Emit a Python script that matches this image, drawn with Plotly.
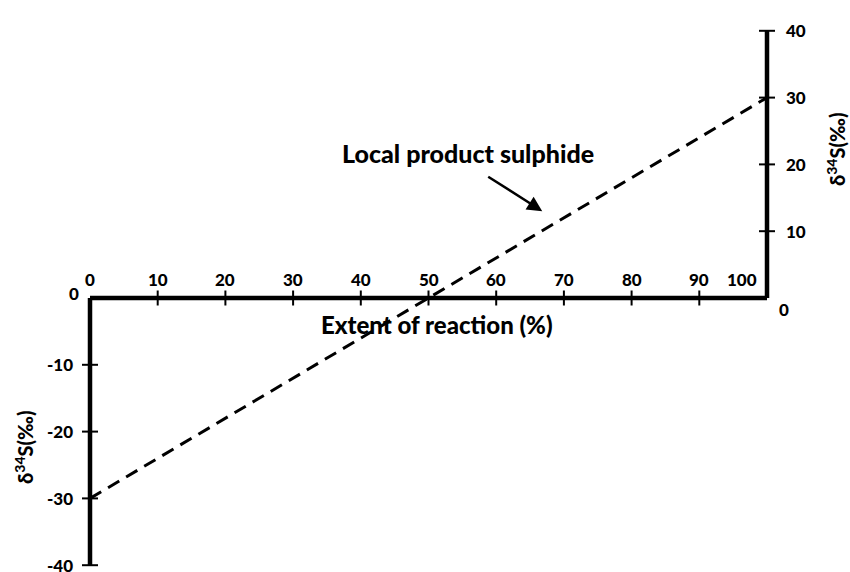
import plotly.graph_objects as go

# Extent of reaction (%) and the local product sulphide δ34S (‰)
extent = [0, 100]
delta_product = [-30, 30]

x_ticks = [0, 10, 20, 30, 40, 50, 60, 70, 80, 90, 100]
left_ticks = [-10, -20, -30, -40]
right_ticks = [10, 20, 30, 40]

x_title = "Extent of reaction (%)"
y_title = "δ<sup>34</sup>S(‰)"
curve_label = "Local product sulphide"

INK = "black"


def bold(size):
    return dict(family="Lato", size=size, color=INK, weight=900)


# pixel scales used to size ticks in data units
PX_X = 677 / 100.0
PX_Y = 6.68
ZERO_PX = 298
X_RANGE = [-90 / PX_X, 760 / PX_X]
Y_RANGE = [-(572 - ZERO_PX) / PX_Y, ZERO_PX / PX_Y]

fig = go.Figure()

fig.add_trace(go.Scatter(
    x=extent, y=delta_product, mode="lines",
    line=dict(color=INK, width=3, dash="13px,8px"),
    hoverinfo="skip", showlegend=False,
))

shapes = []
AX_W = 4.5
# horizontal axis at zero, left axis going down, right axis going up
shapes.append(dict(type="line", x0=x_ticks[0], x1=x_ticks[-1], y0=0, y1=0,
                   line=dict(color=INK, width=AX_W)))
shapes.append(dict(type="line", x0=x_ticks[0], x1=x_ticks[0], y0=0, y1=min(left_ticks),
                   line=dict(color=INK, width=AX_W)))
shapes.append(dict(type="line", x0=x_ticks[-1], x1=x_ticks[-1], y0=0, y1=max(right_ticks),
                   line=dict(color=INK, width=AX_W)))

half_y = 7.5 / PX_Y
half_x = 8.0 / PX_X
for t in x_ticks[1:-1]:
    shapes.append(dict(type="line", x0=t, x1=t, y0=-half_y, y1=half_y,
                       line=dict(color=INK, width=2)))
for t in left_ticks:
    shapes.append(dict(type="line", x0=-half_x, x1=half_x, y0=t, y1=t,
                       line=dict(color=INK, width=2)))
for t in right_ticks:
    shapes.append(dict(type="line", x0=x_ticks[-1] - half_x, x1=x_ticks[-1] + half_x,
                       y0=t, y1=t, line=dict(color=INK, width=2)))

ann = []
TF = bold(17)
for t in x_ticks:
    last = t == x_ticks[-1]
    ann.append(dict(x=t, y=0, text=str(t), showarrow=False,
                    xanchor="right" if last else "center",
                    xshift=-8 if last else 0,
                    yanchor="bottom", yshift=6, font=TF))
for t in left_ticks:
    ann.append(dict(x=0, y=t, text=str(t), showarrow=False, xanchor="right",
                    yanchor="middle", xshift=-15, font=TF))
for t in right_ticks:
    ann.append(dict(x=100, y=t, text=str(t), showarrow=False, xanchor="left",
                    yanchor="middle", xshift=17, font=TF))
# zero labels of the two vertical axes
ann.append(dict(x=0, y=0, text="0", showarrow=False, xanchor="right",
                yanchor="middle", xshift=-9, yshift=5, font=TF))
ann.append(dict(x=100, y=0, text="0", showarrow=False, xanchor="center",
                yanchor="middle", xshift=17, yshift=-11, font=TF))

# axis titles
ann.append(dict(x=51.2, y=0, text=x_title, showarrow=False,
                xanchor="center", yanchor="middle", yshift=-26, font=bold(24)))
ann.append(dict(xref="paper", x=24 / 850, y=-22.3, text=y_title,
                showarrow=False, textangle=-90, xanchor="center", yanchor="middle",
                font=bold(20)))
ann.append(dict(xref="paper", x=836 / 850, y=22.3, text=y_title,
                showarrow=False, textangle=-90, xanchor="center", yanchor="middle",
                font=bold(20)))

# curve label with arrow
ann.append(dict(x=55.8, y=21.7, text=curve_label, showarrow=False,
                xanchor="center", yanchor="middle", font=bold(25)))
ann.append(dict(x=66.8, y=13.0, ax=58.6, ay=18.3, xref="x", yref="y",
                axref="x", ayref="y", text="", showarrow=True,
                arrowhead=2, arrowsize=1.2, arrowwidth=2.5, arrowcolor=INK))

fig.update_layout(
    width=850, height=572,
    margin=dict(l=0, r=0, t=0, b=0),
    paper_bgcolor="white", plot_bgcolor="white",
    xaxis=dict(range=X_RANGE, visible=False, fixedrange=True),
    yaxis=dict(range=Y_RANGE, visible=False, fixedrange=True),
    shapes=shapes, annotations=ann, showlegend=False,
)

fig.write_html("out.html")
